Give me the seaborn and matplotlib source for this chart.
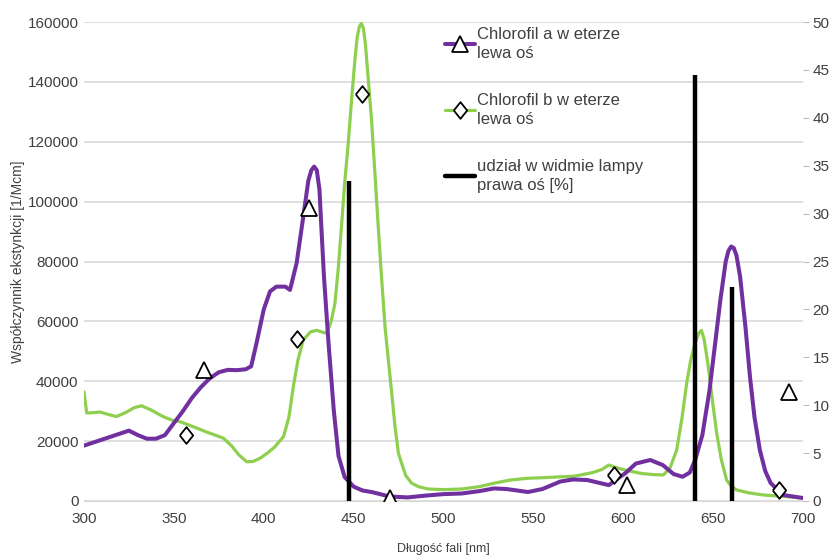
import numpy as np
import pandas as pd
import matplotlib
matplotlib.use("Agg")
import matplotlib.pyplot as plt
from matplotlib.lines import Line2D
import seaborn as sns

# chlorofil a (left axis, x1000)
chl_a_nm = [300, 305, 310, 315, 320, 325, 330, 335, 340, 345, 350, 355, 360, 365,
            370, 375, 380, 385, 390, 393, 396, 400, 403.5, 407, 412, 414.6, 418.3,
            422, 424.8, 426.5, 428, 429.5, 431, 432, 433.5, 436, 439, 441.6, 445, 450,
            455, 460, 470, 480, 490, 500, 510, 520, 528, 535, 547, 555, 565, 572, 580,
            587, 592, 598, 601, 607, 615, 622, 628, 633, 637, 640, 644, 648, 651, 654,
            657, 658.5, 660, 661.5, 663, 665, 668, 670.5, 673, 676, 679, 682, 689, 700]
chl_a_val = [18.5, 19.5, 20.5, 21.5, 22.5, 23.5, 22, 20.8, 20.8, 22, 26, 30, 34.4, 38,
             41, 43, 43.8, 43.7, 44, 45, 52.8, 64, 70, 71.6, 71.6, 70.5, 79.5,
             95, 107, 110.5, 111.7, 110.5, 104, 92, 75, 53, 30, 15, 8, 4.8,
             3.5, 3, 1.5, 1.2, 1.8, 2.3, 2.5, 3.3, 4.2, 4, 3, 4, 6.5, 7.2, 7,
             6, 5.3, 8, 9.2, 12.5, 13.7, 12, 9, 8.1, 9.5, 13.7, 22, 37, 52, 67,
             80, 83.5, 85, 84.5, 82, 75, 58, 41.5, 28, 17, 10, 6, 2, 1]

# chlorofil b (left axis, x1000)
chl_b_nm = [300, 301.5, 305, 309, 313, 318, 323, 328, 332, 337, 344, 349, 353.4, 360,
            368, 373, 377.5, 382, 386, 390.5, 394, 398, 402, 406, 411, 414, 416.4,
            419, 422, 426, 429.5, 432, 435, 437.5, 439.6, 441.5, 443.4, 445, 447,
            449, 450.8, 452, 453.2, 454.3, 455.4, 456.5, 458, 460, 462, 463.7, 465.5,
            467.5, 469.5, 471.2, 473, 474.9, 476.7, 479, 482.2, 486, 491.5, 500, 510,
            520, 528.6, 537, 547, 556, 565.7, 573, 583, 588, 592, 597, 602, 610, 617,
            622.3, 626, 629.7, 632.5, 635.3, 637.5, 640, 642, 643.5, 645, 647.3, 649.5,
            652, 654.5, 657.5, 660, 663, 670, 678, 690, 700]
chl_b_val = [36.5, 29.4, 29.5, 29.7, 29, 28.2, 29.5, 31.2, 31.8, 30.5, 28.2, 27, 26.5, 25,
             23.1, 22, 21, 18.5, 15.5, 13.1, 13.2, 14.3, 16, 18, 21.5, 28, 38,
             47, 53.8, 56.5, 57, 56.5, 56, 60, 66, 78, 93, 106, 119.5,
             135, 148, 155, 158.5, 159.5, 158, 153, 142, 127, 108, 91.6, 75,
             58, 46, 36, 25, 16, 12.6, 8.5, 6, 4.8, 4, 3.8, 4,
             4.8, 6, 7, 7.6, 7.8, 8.1, 8.3, 9.5, 10.5, 12, 11, 10.2, 9.2, 8.8,
             8.7, 11, 17, 27, 39.4, 47, 52.8, 56, 57, 54, 44.9, 34,
             22.6, 14, 7, 5, 3.7, 2.7, 2, 1.5, 1]

# loose markers as drawn in the picture (x1000)
tri_nm = [366.8, 425.2, 470.2, 602, 692.2]
tri_val = [43.7, 97.9, 1.0, 5.3, 36.4]
dia_nm = [356.7, 418.5, 454.7, 594.9, 686.7]
dia_val = [22.0, 54.1, 135.9, 8.7, 3.7]

# lamp spectrum share (right axis, %)
lamp_nm = [447.4, 640.0, 660.5]
lamp_pct = [33.4, 44.5, 22.3]

purple = "#7030a0"
green = "#8fcf4f"
txt = "#404040"

sns.set_style("white")
plt.rcParams["font.family"] = ["Liberation Sans", "DejaVu Sans"]

df_a = pd.DataFrame({"nm": chl_a_nm, "val": np.array(chl_a_val) * 1000})
df_b = pd.DataFrame({"nm": chl_b_nm, "val": np.array(chl_b_val) * 1000})

fig = plt.figure(figsize=(8.33, 5.55), dpi=100)
ax = fig.add_axes([84 / 833, 1 - 501 / 555, 719 / 833, 479 / 555])

sns.lineplot(data=df_b, x="nm", y="val", ax=ax, color=green, linewidth=2.3,
             estimator=None, zorder=3)
sns.lineplot(data=df_a, x="nm", y="val", ax=ax, color=purple, linewidth=2.9,
             estimator=None, zorder=4)

diamond = [(-0.8, 0), (0, 1), (0.8, 0), (0, -1), (-0.8, 0)]
ax.plot(tri_nm, np.array(tri_val) * 1000, ls="none", marker="^", ms=12,
        mfc="white", mec="black", mew=1.3, zorder=6)
ax.plot(dia_nm, np.array(dia_val) * 1000, ls="none", marker=diamond, ms=12,
        mfc="white", mec="black", mew=1.3, zorder=6)

ax.set_xlim(300, 700)
ax.set_ylim(0, 160000)
ax.set_xticks(range(300, 701, 50))
ax.set_yticks(range(0, 160001, 20000))
ax.yaxis.grid(True, color="#d9d9d9", linewidth=1.2)
ax.set_axisbelow(True)
for s in ax.spines.values():
    s.set_visible(False)
ax.spines["bottom"].set_visible(True)
ax.spines["bottom"].set_color("#d9d9d9")
ax.tick_params(axis="y", length=0, pad=4, labelsize=11, labelcolor=txt)
ax.tick_params(axis="x", length=4, color="#d9d9d9", pad=4, labelsize=11, labelcolor=txt)
ax.set_xlabel("Długość fali [nm]", fontsize=9, color=txt, labelpad=12)
ax.set_ylabel("Współczynnik ekstynkcji [1/Mcm]", fontsize=10, color=txt, labelpad=2)

ax2 = ax.twinx()
ax2.vlines(lamp_nm, 0, lamp_pct, color="black", linewidth=3.2, zorder=5)
ax2.set_ylim(0, 50)
ax2.set_yticks(range(0, 51, 5))
for s in ax2.spines.values():
    s.set_visible(False)
ax2.tick_params(axis="y", length=4, color="#bfbfbf", pad=3, labelsize=11, labelcolor=txt)

handles = [
    Line2D([], [], color=purple, lw=2.9, marker="^", ms=12, mfc="white", mec="black", mew=1.3),
    Line2D([], [], color=green, lw=2.3, marker=diamond, ms=12, mfc="white", mec="black", mew=1.3),
    Line2D([], [], color="black", lw=3.2),
]
labels = ["Chlorofil a w eterze\nlewa oś", "Chlorofil b w eterze\nlewa oś",
          "udział w widmie lampy\nprawa oś [%]"]
leg = ax2.legend(handles, labels, loc="upper left", bbox_to_anchor=(445 / 833, 1 - 27 / 555),
                 bbox_transform=fig.transFigure, frameon=False, fontsize=12,
                 handlelength=1.8, handletextpad=0.1, labelspacing=1.9, borderpad=0,
                 borderaxespad=0, labelcolor=txt)
for t in leg.get_texts():
    t.set_linespacing(1.35)

fig.savefig("out.png", dpi=100)
